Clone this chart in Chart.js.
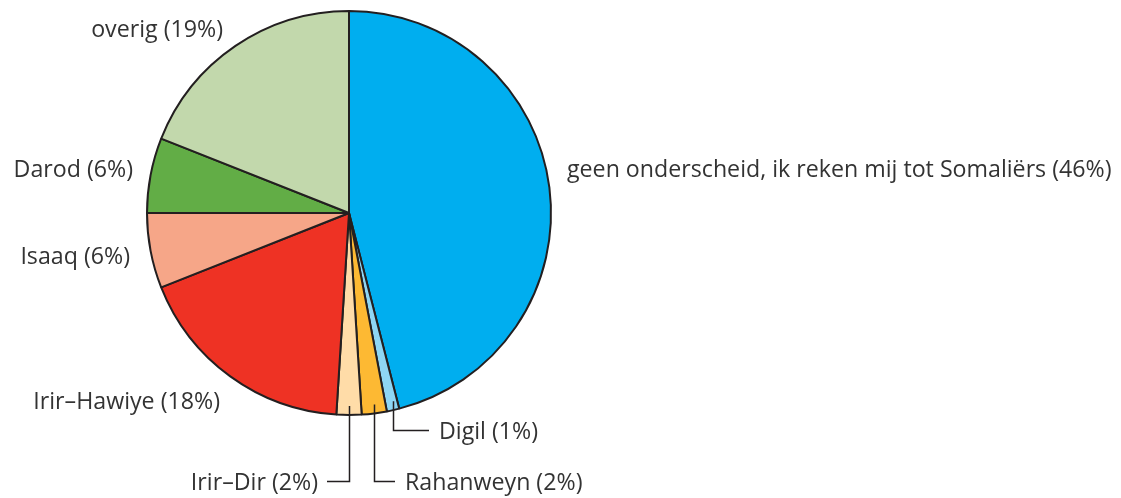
<!DOCTYPE html>
<html>
<head>
<meta charset="utf-8">
<script src="https://cdn.jsdelivr.net/npm/chart.js@4"></script>
<style>
  html, body { margin: 0; padding: 0; background: #fff; }
  #wrap { width: 1121px; height: 498px; }
</style>
</head>
<body>
<div id="wrap"><canvas id="pieChart" width="1121" height="498"></canvas></div>
<script>
// data, clockwise from 12 o'clock
var categories = ['geen onderscheid, ik reken mij tot Somaliërs', 'Digil', 'Rahanweyn', 'Irir\u2013Dir',
    'Irir\u2013Hawiye', 'Isaaq', 'Darod', 'overig'];
var percentages = [46, 1, 2, 2, 18, 6, 6, 19];
var sliceColors = ['#00AEEF', '#8ED6F4', '#FDB933', '#FFDCA8', '#EE3224', '#F6A688', '#62AD46', '#C2D8AC'];

// label placement: [x, y, align, leaderY or null]
var labelLayout = [
    [567, 170, 'left', null],
    [439, 432, 'left', 430],
    [405, 483, 'left', 481],
    [318, 483, 'right', 481],
    [220, 402, 'right', null],
    [130, 257, 'right', null],
    [133, 170, 'right', null],
    [223, 30, 'right', null]
];

var labelPlugin = {
    id: 'sliceLabels',
    afterDraw: function(chart) {
        var ctx = chart.ctx;
        var arcs = chart.getDatasetMeta(0).data;
        ctx.save();
        ctx.font = '23.2px "Open Sans"';
        ctx.fillStyle = '#333333';
        ctx.textBaseline = 'middle';
        ctx.strokeStyle = '#231f20';
        ctx.lineWidth = 1.5;
        arcs.forEach(function(arc, i) {
            var lay = labelLayout[i];
            var text = categories[i] + ' (' + percentages[i] + '%)';
            if (lay[3] !== null) {
                var mid = (arc.startAngle + arc.endAngle) / 2;
                var lx = Math.round(arc.x + arc.outerRadius * Math.cos(mid)) + 0.5;
                var ly = arc.y + arc.outerRadius * 0.955 * Math.sin(mid);
                var endX = lay[2] === 'left' ? lay[0] - 10 : lay[0] + 9;
                ctx.beginPath();
                ctx.moveTo(lx, ly);
                ctx.lineTo(lx, lay[3] + 0.5);
                ctx.lineTo(endX, lay[3] + 0.5);
                ctx.stroke();
            }
            ctx.textAlign = lay[2];
            ctx.fillText(text, lay[0], lay[1]);
        });
        ctx.restore();
    }
};

var ctx = document.getElementById('pieChart').getContext('2d');
var chart = new Chart(ctx, {
    type: 'pie',
    data: {
        labels: categories,
        datasets: [{
            data: percentages,
            backgroundColor: sliceColors,
            borderColor: '#231f20',
            borderWidth: 2
        }]
    },
    options: {
        responsive: false,
        animation: false,
        layout: {
            padding: { left: 146, top: 10, right: 569, bottom: 82 }
        },
        plugins: {
            legend: { display: false },
            tooltip: { enabled: false }
        }
    },
    plugins: [labelPlugin]
});
</script>
</body>
</html>
